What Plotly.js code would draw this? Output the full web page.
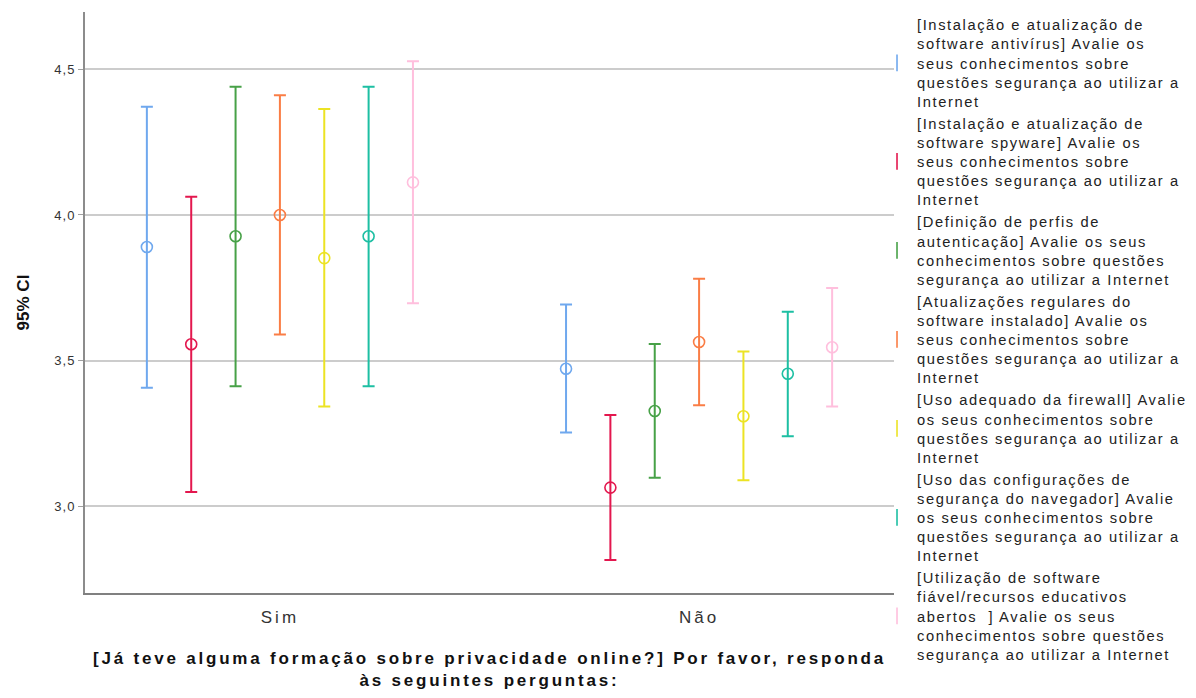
<!DOCTYPE html>
<html>
<head>
<meta charset="utf-8">
<script src="https://cdn.plot.ly/plotly-3.0.1.min.js"></script>
<style>
  html, body { margin: 0; padding: 0; background: #fff; }
  #chart { width: 1196px; height: 698px; }
  .legendtext { letter-spacing: 1.6px; }
  .xtick text { letter-spacing: 3px; }
  .ytick text { letter-spacing: 1px; }
  .xtitle { letter-spacing: 2.8px; }
</style>
</head>
<body>
<div id="chart"></div>
<script>
// ---- Data ----
const categories = ['Sim', 'Não'];
const seriesNames = [
  '[Instalação e atualização de<br>software antivírus] Avalie os<br>seus conhecimentos sobre<br>questões segurança ao utilizar a<br>Internet',
  '[Instalação e atualização de<br>software spyware] Avalie os<br>seus conhecimentos sobre<br>questões segurança ao utilizar a<br>Internet',
  '[Definição de perfis de<br>autenticação] Avalie os seus<br>conhecimentos sobre questões<br>segurança ao utilizar a Internet',
  '[Atualizações regulares do<br>software instalado] Avalie os<br>seus conhecimentos sobre<br>questões segurança ao utilizar a<br>Internet',
  '[Uso adequado da firewall] Avalie<br>os seus conhecimentos sobre<br>questões segurança ao utilizar a<br>Internet',
  '[Uso das configurações de<br>segurança do navegador] Avalie<br>os seus conhecimentos sobre<br>questões segurança ao utilizar a<br>Internet',
  '[Utilização de software<br>fiável/recursos educativos<br>abertos  ] Avalie os seus<br>conhecimentos sobre questões<br>segurança ao utilizar a Internet'
];
const seriesColors = ['#6fa8ee', '#e3174e', '#47a147', '#fa7d45', '#ece324', '#1dbfa3', '#ffbfdd'];

const meanSim = [3.890, 3.556, 3.927, 4.000, 3.852, 3.927, 4.112];
const lowSim  = [3.407, 3.049, 3.412, 3.590, 3.342, 3.412, 3.697];
const highSim = [4.372, 4.063, 4.440, 4.411, 4.364, 4.440, 4.528];

const meanNao = [3.472, 3.064, 3.327, 3.564, 3.309, 3.455, 3.546];
const lowNao  = [3.253, 2.815, 3.098, 3.347, 3.089, 3.240, 3.342];
const highNao = [3.693, 3.313, 3.557, 3.781, 3.531, 3.668, 3.749];

const yTicks = [3.0, 3.5, 4.0, 4.5];

// ---- Build traces ----
const nSeries = seriesNames.length;
const offsetStep = 0.1058;
const traces = [];
const means = [meanSim, meanNao];
const lows = [lowSim, lowNao];
const highs = [highSim, highNao];

for (let i = 0; i < nSeries; i++) {
  const xs = categories.map((c, ci) => ci + (i - (nSeries - 1) / 2) * offsetStep);
  const ys = categories.map((c, ci) => means[ci][i]);
  const up = categories.map((c, ci) => highs[ci][i] - means[ci][i]);
  const dn = categories.map((c, ci) => means[ci][i] - lows[ci][i]);
  traces.push({
    type: 'scatter',
    mode: 'markers',
    x: xs,
    y: ys,
    showlegend: false,
    marker: { symbol: 'circle-open', size: 11, color: seriesColors[i], line: { width: 1.6, color: seriesColors[i] } },
    error_y: { type: 'data', symmetric: false, array: up, arrayminus: dn, color: seriesColors[i], thickness: 2, width: 6 },
    hoverinfo: 'skip'
  });
}
// legend-only entries (I-shaped symbol)
for (let i = 0; i < nSeries; i++) {
  traces.push({
    type: 'scatter',
    mode: 'markers',
    x: [null],
    y: [null],
    name: seriesNames[i],
    showlegend: true,
    marker: { symbol: 'line-ns-open', size: 12, color: seriesColors[i], line: { width: 1.6, color: seriesColors[i] } }
  });
}

const layout = {
  width: 1196,
  height: 698,
  margin: { l: 85, r: 302, t: 12, b: 105, autoexpand: false },
  paper_bgcolor: '#ffffff',
  plot_bgcolor: '#ffffff',
  separators: ',.',
  font: { family: 'Liberation Sans, Arial, sans-serif', color: '#222' },
  showlegend: true,
  xaxis: {
    range: [-0.465, 1.465],
    tickvals: categories.map((c, ci) => ci),
    ticktext: categories,
    showgrid: false,
    zeroline: false,
    showline: true,
    linecolor: '#808080',
    linewidth: 1.5,
    ticks: 'outside',
    ticklen: 8,
    tickcolor: 'rgba(0,0,0,0)',
    tickfont: { size: 17, color: '#333' },
    title: {
      text: '<b>[Já teve alguma formação sobre privacidade online?] Por favor, responda<br>às seguintes perguntas:</b>',
      font: { size: 17, color: '#111' },
      standoff: 26
    }
  },
  yaxis: {
    range: [2.702, 4.697],
    tickvals: yTicks,
    tickformat: '.1f',
    showgrid: true,
    gridcolor: '#cccccc',
    gridwidth: 2,
    zeroline: false,
    showline: true,
    linecolor: '#8c8c8c',
    linewidth: 2,
    ticks: 'outside',
    ticklen: 5,
    tickcolor: '#a0a0a0',
    tickfont: { size: 13, color: '#333' },
    title: { text: '<b>95% CI</b>', font: { size: 17, color: '#111' }, standoff: 20 }
  },
  legend: {
    x: 0.979,
    xanchor: 'left',
    y: 1.006,
    yanchor: 'top',
    maxheight: 698,
    bgcolor: 'rgba(0,0,0,0)',
    font: { size: 14.7, color: '#222' },
    valign: 'middle',
    tracegroupgap: 0,
    itemwidth: 30
  }
};

Plotly.newPlot('chart', traces, layout, { displayModeBar: false, staticPlot: true });
</script>
</body>
</html>
